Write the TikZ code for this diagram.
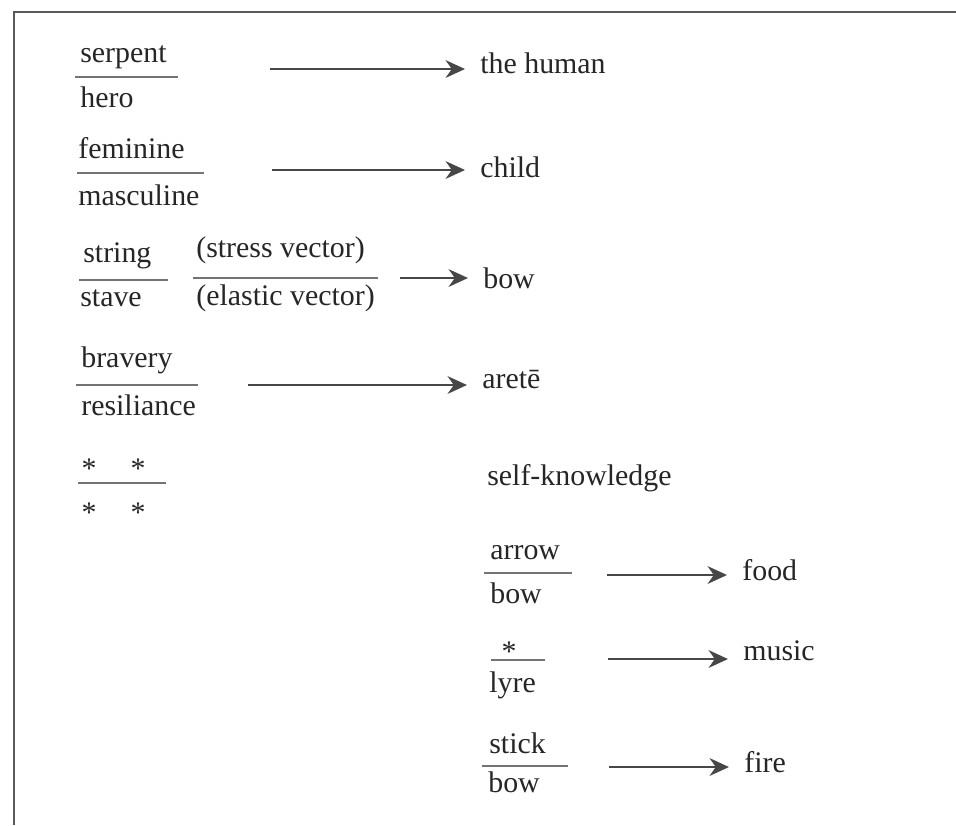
\documentclass[tikz,border=0pt]{standalone}
\usepackage{fontspec}
\setmainfont{Liberation Serif}
\usetikzlibrary{arrows.meta, positioning, calc}

\begin{document}
\begin{tikzpicture}[
    txt/.style={anchor=base west, inner sep=0pt, text=black!85, font=\fontsize{17}{20}\selectfont},
    star/.style={inner sep=0pt, text=black!85, font=\fontsize{17}{20}\selectfont},
    bar/.style={black!55, line width=0.7pt},
    conn/.style={-{Stealth[length=11pt, width=10pt, inset=3.5pt]}, line width=1.6pt, black!72, shorten >=0.3cm}
  ]
                \useasboundingbox (0,0) rectangle (19.12,-16.5);

                % Frame
                \draw[black!65, line width=1pt] (0.28,-16.5) -- (0.28,-0.24) -- (19.12,-0.24);

                % serpent / hero
                \node[txt] (serpent) at (1.60,-1.24) {serpent};
                \node[txt] (hero) at (1.60,-2.14) {hero};
                \draw[bar] (1.50,-1.54) -- (3.56,-1.54);
                \node[txt] (human) at (9.60,-1.46) {the human};
                \coordinate (t1) at (5.40,-1.38);
                \draw[conn] (t1) -- (t1 -| human.west);

                % feminine / masculine
                \node[txt] (feminine) at (1.56,-3.16) {feminine};
                \node[txt] (masculine) at (1.56,-4.10) {masculine};
                \draw[bar] (1.54,-3.46) -- (4.08,-3.46);
                \node[txt] (child) at (9.60,-3.54) {child};
                \coordinate (t2) at (5.44,-3.40);
                \draw[conn] (t2) -- (t2 -| child.west);

                % string / stave, stress / elastic
                \node[txt] (string) at (1.66,-5.24) {string};
                \node[txt] (stave) at (1.60,-6.12) {stave};
                \draw[bar] (1.58,-5.60) -- (3.36,-5.60);
                \node[txt] (stress) at (3.92,-5.14) {(stress vector)};
                \node[txt] (elastic) at (3.92,-6.10) {(elastic vector)};
                \draw[bar] (3.86,-5.56) -- (7.56,-5.56);
                \node[txt] (bowA) at (9.66,-5.76) {bow};
                \coordinate (t3) at (8.00,-5.56);
                \draw[conn] (t3) -- (t3 -| bowA.west);

                % bravery / resiliance
                \node[txt] (bravery) at (1.62,-7.34) {bravery};
                \node[txt] (resil) at (1.62,-8.30) {resiliance};
                \draw[bar] (1.52,-7.70) -- (3.96,-7.70);
                \node[txt] (arete) at (9.64,-7.76) {aretē};
                \coordinate (t4) at (4.96,-7.70);
                \draw[conn] (t4) -- (t4 -| arete.west);

                % stars
                \node[star] (s1) at (1.78,-9.38) {*};
                \node[star] (s2) at (2.76,-9.38) {*};
                \node[star] (s3) at (1.78,-10.26) {*};
                \node[star] (s4) at (2.76,-10.26) {*};
                \draw[bar] (1.56,-9.66) -- (3.32,-9.66);
                \node[txt] (selfk) at (9.74,-9.70) {self-knowledge};

                % arrow / bow
                \node[txt] (arrow) at (9.80,-11.18) {arrow};
                \node[txt] (bowB) at (9.80,-12.06) {bow};
                \draw[bar] (9.68,-11.46) -- (11.44,-11.46);
                \node[txt] (food) at (14.84,-11.60) {food};
                \coordinate (t5) at (12.14,-11.50);
                \draw[conn] (t5) -- (t5 -| food.west);

                % * / lyre
                \node[star] (s5) at (10.18,-13.04) {*};
                \node[txt] (lyre) at (9.78,-13.84) {lyre};
                \draw[bar] (9.82,-13.20) -- (10.90,-13.20);
                \node[txt] (music) at (14.86,-13.20) {music};
                \coordinate (t6) at (12.16,-13.18);
                \draw[conn] (t6) -- (t6 -| music.west);

                % stick / bow
                \node[txt] (stick) at (9.78,-15.06) {stick};
                \node[txt] (bowC) at (9.76,-15.84) {bow};
                \draw[bar] (9.64,-15.32) -- (11.36,-15.32);
                \node[txt] (fire) at (14.88,-15.44) {fire};
                \coordinate (t7) at (12.18,-15.34);
                \draw[conn] (t7) -- (t7 -| fire.west);
\end{tikzpicture}
\end{document}
